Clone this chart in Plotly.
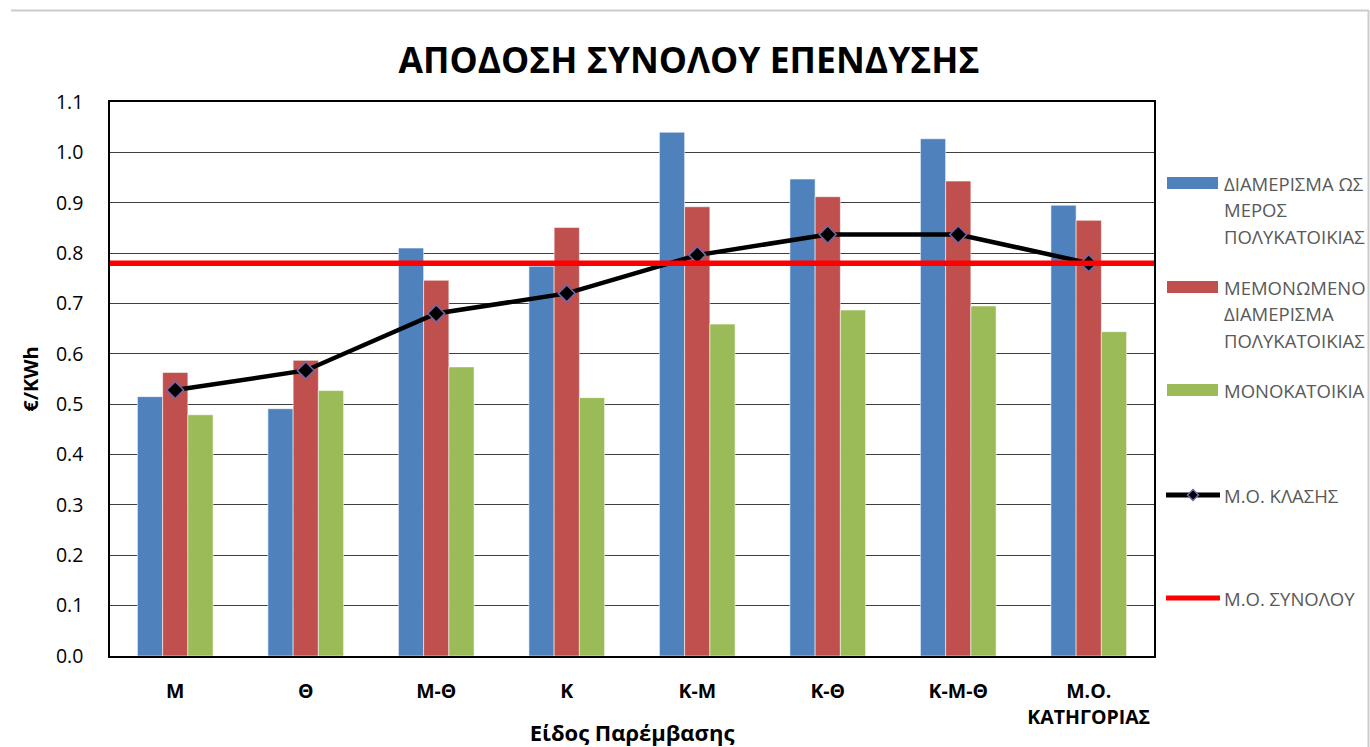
import plotly.graph_objects as go

# Intervention types on the x axis
categories = ["Μ", "Θ", "Μ-Θ", "Κ", "Κ-Μ", "Κ-Θ", "Κ-Μ-Θ", "Μ.Ο.<br>ΚΑΤΗΓΟΡΙΑΣ"]

# Return on total investment (€/KWh) per building type
apartment_in_block = [0.515, 0.491, 0.810, 0.774, 1.040, 0.947, 1.027, 0.895]
detached_apartment = [0.563, 0.587, 0.746, 0.851, 0.892, 0.912, 0.943, 0.865]
single_house = [0.479, 0.527, 0.574, 0.513, 0.659, 0.687, 0.695, 0.644]

# Class average and overall average
class_mean = [0.528, 0.567, 0.680, 0.720, 0.796, 0.837, 0.837, 0.780]
overall_mean = 0.78

series_names = [
    ["ΔΙΑΜΕΡΙΣΜΑ ΩΣ", "ΜΕΡΟΣ", "ΠΟΛΥΚΑΤΟΙΚΙΑΣ"],
    ["ΜΕΜΟΝΩΜΕΝΟ", "ΔΙΑΜΕΡΙΣΜΑ", "ΠΟΛΥΚΑΤΟΙΚΙΑΣ"],
    ["ΜΟΝΟΚΑΤΟΙΚΙΑ"],
    ["Μ.Ο. ΚΛΑΣΗΣ"],
    ["Μ.Ο. ΣΥΝΟΛΟΥ"],
]
y_ticks = [round(i * 0.1, 1) for i in range(12)]

BLUE, RED, GREEN = "#4F81BD", "#C0504D", "#9BBB59"
LINE_RED = "#FF0000"
MARKER_EDGE = "#7866A8"
FRAME = "#CCCCCC"
FONT = "Open Sans"
W, H = 1370, 747
# plot area in pixels
L, R, T, B = 110, 1154, 102, 656


def px(x):
    return (x - L) / (R - L)


def py(y):
    return (B - y) / (B - T)


fig = go.Figure()
edge = dict(color="rgba(255,255,255,0.55)", width=1)
for vals, col, name in [
    (apartment_in_block, BLUE, " ".join(series_names[0])),
    (detached_apartment, RED, " ".join(series_names[1])),
    (single_house, GREEN, " ".join(series_names[2])),
]:
    fig.add_trace(go.Bar(x=categories, y=vals, name=name,
                         marker=dict(color=col, line=edge)))

fig.add_trace(go.Scatter(
    x=categories, y=class_mean, name=series_names[3][0], mode="lines+markers",
    line=dict(color="black", width=4.5),
    marker=dict(symbol="diamond", size=13, color="black",
                line=dict(color=MARKER_EDGE, width=1.5)),
))

# overall mean as a horizontal rule across the plot
fig.add_hline(y=overall_mean, line=dict(color=LINE_RED, width=5.5), layer="above")

# chart frame: left, top and right edges (bottom lies below the window)
frame_line = dict(color=FRAME, width=2)
shapes = [
    dict(type="line", xref="paper", yref="paper",
         x0=px(11), x1=px(11), y0=py(H), y1=py(10),
         line=frame_line, layer="above"),
    dict(type="line", xref="paper", yref="paper",
         x0=px(11), x1=px(1368.5), y0=py(10.5), y1=py(10.5),
         line=frame_line, layer="above"),
    dict(type="line", xref="paper", yref="paper",
         x0=px(1368.5), x1=px(1368.5), y0=py(H), y1=py(10),
         line=frame_line, layer="above"),
]

# legend: swatches and labels, one row every ~104 px
legend_rows = [183, 287, 390, 495, 598]
LINE_STEP = 26.5
ann = []
for i, yy in enumerate(legend_rows):
    if i < 3:
        col = [BLUE, RED, GREEN][i]
        shapes.append(dict(type="rect", xref="paper", yref="paper",
                           x0=px(1167), x1=px(1218), y0=py(yy + 6), y1=py(yy - 6),
                           fillcolor=col, line=dict(width=0)))
    else:
        col = "black" if i == 3 else LINE_RED
        shapes.append(dict(type="line", xref="paper", yref="paper",
                           x0=px(1166), x1=px(1220), y0=py(yy), y1=py(yy),
                           line=dict(color=col, width=5)))
        if i == 3:
            cx, cy, r = 1193, yy, 5.5
            path = "M{},{} L{},{} L{},{} L{},{} Z".format(
                px(cx), py(cy - r), px(cx + r), py(cy),
                px(cx), py(cy + r), px(cx - r), py(cy))
            shapes.append(dict(type="path", xref="paper", yref="paper",
                               path=path, fillcolor="black",
                               line=dict(color=MARKER_EDGE, width=1.5)))
    for k, line_text in enumerate(series_names[i]):
        ann.append(dict(x=px(1222), y=py(yy + k * LINE_STEP), xref="paper",
                        yref="paper", xanchor="left", yanchor="middle",
                        text=line_text, showarrow=False,
                        font=dict(family=FONT, size=18.5, color="#595959")))

fig.update_layout(
    width=W, height=H,
    margin=dict(l=L, r=W - R, t=T, b=H - B),
    paper_bgcolor="white", plot_bgcolor="white",
    barmode="group", bargap=0.42, bargroupgap=0,
    showlegend=False,
    font=dict(family=FONT, color="black"),
    title=dict(text="<b>ΑΠΟΔΟΣΗ ΣΥΝΟΛΟΥ ΕΠΕΝΔΥΣΗΣ</b>", x=689 / W, xref="container",
               xanchor="center", y=1 - 61 / H, yanchor="middle",
               font=dict(family=FONT, size=35.5, color="black"),
               automargin=False),
    xaxis=dict(
        automargin=False,
        showgrid=False, showline=True, linecolor="black", linewidth=1.5,
        mirror=True, ticks="", tickfont=dict(family=FONT, size=19.5, color="black"),
        tickprefix="<b>", ticksuffix="</b>", ticklabelstandoff=17,
        title=dict(text="<b>Είδος Παρέμβασης</b>", standoff=17,
                   font=dict(family=FONT, size=22, color="black")),
    ),
    yaxis=dict(
        automargin=False,
        range=[0, 1.1], tickvals=y_ticks, tickformat=".1f",
        showgrid=True, gridcolor="#3F3F3F", gridwidth=1.3,
        showline=True, linecolor="black", linewidth=1.5, mirror=True,
        ticks="", ticklabelstandoff=21,
        tickfont=dict(family=FONT, size=19.5, color="black"),
        zeroline=False,
        title=dict(text="<b>€/KWh</b>", standoff=12,
                   font=dict(family=FONT, size=20, color="black")),
    ),
    shapes=shapes,
    annotations=ann,
)

fig.write_html("out.html")
